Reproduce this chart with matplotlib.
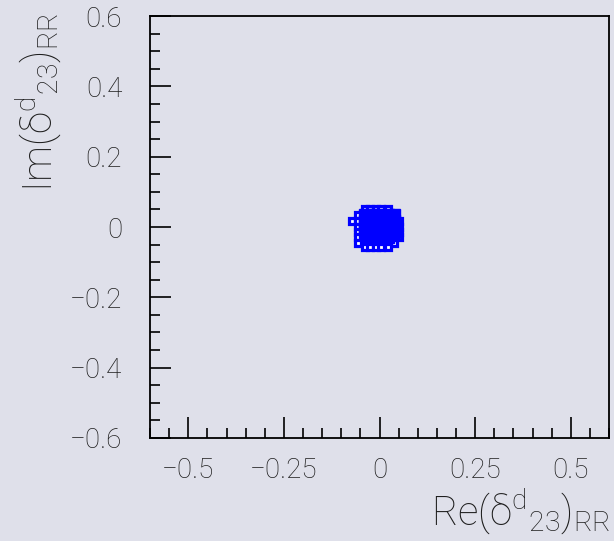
import matplotlib
matplotlib.use('Agg')
import matplotlib.pyplot as plt
import numpy as np

# open-square points (ROOT style scatter)
re_pts = [-0.039, -0.024, -0.008, 0.005, 0.021,
          -0.057, -0.039, -0.024, -0.008, 0.005, 0.021, 0.037,
          -0.073, -0.057, -0.039, -0.024, -0.008, 0.005, 0.021, 0.037, 0.052,
          -0.057, -0.039, -0.024, -0.008, 0.005, 0.021, 0.037, 0.052,
          -0.057, -0.039, -0.024, -0.008, 0.005, 0.021, 0.037, 0.052,
          -0.057, -0.039, -0.024, -0.008, 0.005, 0.021, 0.037, 0.052,
          -0.057, -0.039, -0.024, -0.008, 0.005, 0.021, 0.037,
          -0.039, -0.024, -0.008, 0.005, 0.021]
im_pts = [0.051] * 5 + [0.034] * 7 + [0.017] * 9 + [0.0] * 8 + \
         [-0.014] * 8 + [-0.028] * 8 + [-0.045] * 7 + [-0.057] * 5

# interior points that fill the blob
re_inner = [-0.039, -0.024, -0.008, 0.005, 0.021, 0.037,
            -0.039, -0.024, -0.008, 0.005, 0.021, 0.037,
            -0.039, -0.024, -0.008, 0.005, 0.021, 0.037,
            -0.039, -0.024, -0.008, 0.005, 0.021, 0.037,
            -0.024, -0.008, 0.005, 0.021]
im_inner = [0.034] * 6 + [0.017] * 6 + [0.0] * 6 + [-0.014] * 6 + \
           [-0.028] * 4

x_ticks = [-0.5, -0.25, 0, 0.25, 0.5]
x_ticklabels = ['\u22120.5', '\u22120.25', '0', '0.25', '0.5']
y_ticks = [-0.6, -0.4, -0.2, 0, 0.2, 0.4, 0.6]
y_ticklabels = ['\u22120.6', '\u22120.4', '\u22120.2', '0', '0.2', '0.4', '0.6']

BG = '#dfe0ea'
TXT = '#1e1e1e'
plt.rcParams['font.family'] = ['Roboto', 'DejaVu Sans']
plt.rcParams['font.weight'] = 'light'

fig = plt.figure(figsize=(6.14, 5.41), dpi=100, facecolor=BG)
ax = fig.add_axes([0.2443, 0.1904, 0.7476, 0.78])
ax.set_facecolor(BG)

ax.plot(re_pts, im_pts, 's', ms=5, mfc='white', mec='#0000ff', mew=2.3, ls='none')
ax.plot(re_inner, im_inner, 's', ms=8, mfc='#0000ff', mec='#0000ff', ls='none')

ax.set_xlim(-0.6, 0.6)
ax.set_ylim(-0.6, 0.6)
ax.set_xticks(x_ticks)
ax.set_xticklabels(x_ticklabels)
ax.set_yticks(y_ticks)
ax.set_yticklabels(y_ticklabels)
ax.set_xticks(np.arange(-0.6, 0.61, 0.05), minor=True)
ax.set_yticks(np.arange(-0.6, 0.61, 0.05), minor=True)

ax.tick_params(which='both', direction='in', top=False, right=False,
               colors='black', labelcolor=TXT, labelsize=20, width=1.2)
ax.tick_params(which='major', length=15)
ax.tick_params(which='minor', length=7.5)
ax.tick_params(axis='x', which='major', pad=14)
ax.tick_params(axis='y', which='major', pad=20)
for s in ax.spines.values():
    s.set_linewidth(1.3)
    s.set_color('black')

fig.text(0.995, 0.010, r'$\mathregular{Re(δ^{d}{}_{23})_{RR}}$',
         ha='right', va='bottom', fontsize=29, color=TXT)
fig.text(0.062, 0.977, r'$\mathregular{Im(δ^{d}{}_{23})_{RR}}$',
         ha='center', va='top', rotation=90, fontsize=29, color=TXT)

fig.savefig('out.png', dpi=100, facecolor=BG)
